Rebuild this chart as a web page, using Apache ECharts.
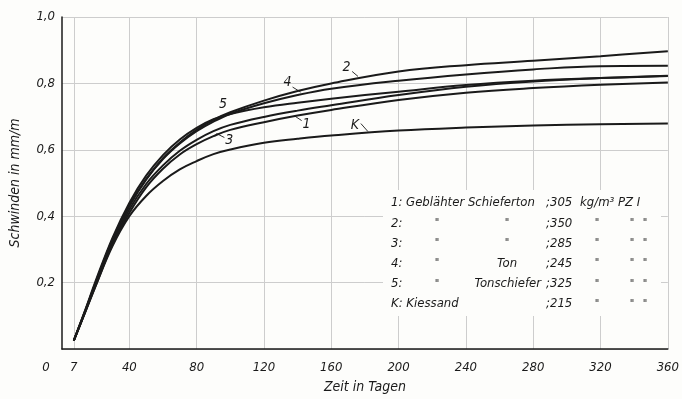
<!DOCTYPE html>
<html>
<head>
<meta charset="utf-8">
<script src="https://cdn.jsdelivr.net/npm/echarts@6/dist/echarts.min.js"></script>
<style>
  html, body { margin: 0; padding: 0; background: #fdfdfb; }
  #chart { width: 682px; height: 399px; }
</style>
</head>
<body>
<div id="chart"></div>
<script>
// Shrinkage of lightweight concrete over time (days), one curve per aggregate
const days   = [7, 14, 20, 30, 40, 50, 60, 70, 80, 90, 100, 120, 140, 160, 200, 240, 280, 320, 360];
const curve1 = [0.025, 0.115, 0.195, 0.320, 0.420, 0.497, 0.553, 0.597, 0.630, 0.656, 0.675, 0.699, 0.718, 0.734, 0.765, 0.790, 0.806, 0.816, 0.823];
const curve2 = [0.025, 0.118, 0.200, 0.330, 0.432, 0.512, 0.575, 0.622, 0.660, 0.690, 0.713, 0.748, 0.777, 0.800, 0.836, 0.855, 0.868, 0.882, 0.897];
const curve3 = [0.025, 0.113, 0.190, 0.315, 0.410, 0.487, 0.543, 0.586, 0.617, 0.641, 0.660, 0.683, 0.703, 0.720, 0.750, 0.772, 0.786, 0.796, 0.803];
const curve4 = [0.025, 0.118, 0.200, 0.328, 0.430, 0.510, 0.572, 0.619, 0.656, 0.685, 0.708, 0.740, 0.765, 0.784, 0.808, 0.827, 0.842, 0.852, 0.853];
const curve5 = [0.025, 0.120, 0.205, 0.335, 0.440, 0.522, 0.584, 0.631, 0.666, 0.692, 0.708, 0.728, 0.742, 0.754, 0.775, 0.795, 0.808, 0.816, 0.822];
const curveK = [0.025, 0.115, 0.190, 0.310, 0.400, 0.461, 0.506, 0.541, 0.566, 0.587, 0.601, 0.621, 0.633, 0.643, 0.658, 0.667, 0.673, 0.677, 0.679];
const curveNames = ['1', '2', '3', '4', '5', 'K'];

// Axis ticks
const xLabelValues = [0, 7, 40, 80, 120, 160, 200, 240, 280, 320, 360];
const xGridValues  = [7, 40, 80, 120, 160, 200, 240, 280, 320, 360];
const yTicks       = [0.2, 0.4, 0.6, 0.8, 1.0];

// Curve tags with their leader strokes (data coordinates)
const tagText   = ['2', '4', '5', '1', '3', 'K'];
const tagDay    = [169, 134, 95.7, 145.3, 99.4, 174];
const tagValue  = [0.847, 0.803, 0.738, 0.676, 0.629, 0.673];
const leaderFrom = [[172.4, 0.836], [137, 0.789], null, [142.4, 0.688], [96.5, 0.637], [177.6, 0.679]];
const leaderTo   = [[175.9, 0.821], [141.8, 0.774], null, [138.2, 0.702], [91.8, 0.649], [181.8, 0.655]];

// Key table
const keyIds      = ['1:', '2:', '3:', '4:', '5:', 'K:'];
const keyFirst    = ['Geblähter Schieferton', '"', '"', '"', '"', 'Kiessand'];
const keySecond   = ['', '"', '"', 'Ton', 'Tonschiefer', ''];
const keyDensity  = [';305', ';350', ';285', ';245', ';325', ';215'];
const keyUnit     = 'kg/m³ PZ I';

const FONT = '"DejaVu Sans Condensed", "Liberation Sans Narrow", "DejaVu Sans", sans-serif';
const INK = '#1a1a1a';

const chart = echarts.init(document.getElementById('chart'), null, { renderer: 'canvas' });

const series = [curve1, curve2, curve3, curve4, curve5, curveK].map((vals, i) => ({
  name: curveNames[i],
  type: 'line',
  data: days.map((d, j) => [d, vals[j]]),
  smooth: 0.4,
  showSymbol: false,
  lineStyle: { color: INK, width: 2 },
  z: 3
}));

chart.setOption({
  backgroundColor: '#fdfdfb',
  animation: false,
  grid: { left: 59, right: 11, top: 17, bottom: 46 },
  xAxis: {
    type: 'value',
    min: 0, max: 360, interval: 40,
    name: 'Zeit in Tagen',
    nameLocation: 'middle',
    nameGap: 31,
    nameTextStyle: { fontFamily: FONT, fontStyle: 'italic', fontSize: 14, color: INK },
    axisLine: { show: true, onZero: false, lineStyle: { color: INK, width: 1.5 } },
    axisTick: { show: false, customValues: xGridValues },
    axisLabel: {
      customValues: xLabelValues,
      fontFamily: FONT, fontStyle: 'italic', fontSize: 13, color: INK, margin: 12,
      formatter: v => v === 0 ? '{o|0}' : String(v),
      rich: { o: { fontFamily: FONT, fontStyle: 'italic', fontSize: 13, color: INK, padding: [0, 32, 0, 0] } }
    },
    splitLine: { show: true, lineStyle: { color: '#cdcdcd', width: 1 } }
  },
  yAxis: {
    type: 'value',
    min: 0, max: 1, interval: 0.2,
    name: 'Schwinden in mm/m',
    nameLocation: 'middle',
    nameGap: 40,
    nameTextStyle: { fontFamily: FONT, fontStyle: 'italic', fontSize: 14, color: INK },
    axisLine: { show: true, lineStyle: { color: INK, width: 1.5 } },
    axisTick: { show: false },
    axisLabel: {
      fontFamily: FONT, fontStyle: 'italic', fontSize: 13, color: INK, margin: 7,
      formatter: v => yTicks.some(t => Math.abs(t - v) < 1e-9) ? v.toFixed(1).replace('.', ',') : ''
    },
    splitLine: { show: true, lineStyle: { color: '#cdcdcd', width: 1 } }
  },
  series
});

// Annotations placed through the grid's own coordinate system
const px = p => chart.convertToPixel({ gridIndex: 0 }, p);
const graphics = [];
const textStyle = (extra) => Object.assign({ fontFamily: FONT, fontStyle: 'italic', fontSize: 13, fill: INK }, extra);

tagText.forEach((t, i) => {
  const c = px([tagDay[i], tagValue[i]]);
  graphics.push({ type: 'text', x: c[0], y: c[1], z: 5,
    style: textStyle({ text: t, align: 'center', verticalAlign: 'middle', fontSize: 14 }) });
  if (leaderFrom[i]) {
    const a = px(leaderFrom[i]), b = px(leaderTo[i]);
    graphics.push({ type: 'line', z: 5,
      shape: { x1: a[0], y1: a[1], x2: b[0], y2: b[1] },
      style: { stroke: INK, lineWidth: 0.9 } });
  }
});

// Key table block with a blank backing over the grid lines
graphics.push({ type: 'rect', z: 1, shape: { x: 383, y: 190, width: 278, height: 126 },
  style: { fill: '#fdfdfb' } });

const rowY0 = 203, rowStep = 20.2;
const ditto = (x, y) => ({ type: 'text', x, y, z: 5,
  style: textStyle({ text: '"', align: 'center', verticalAlign: 'middle', fontSize: 11 }) });

keyIds.forEach((id, r) => {
  const y = rowY0 + r * rowStep;
  const base = { verticalAlign: 'middle' };
  const first = keyFirst[r];
  if (first === '"') {
    graphics.push({ type: 'text', x: 391, y, z: 5, style: textStyle(Object.assign({ text: id, align: 'left' }, base)) });
    graphics.push(ditto(437, y));
  } else {
    graphics.push({ type: 'text', x: 391, y, z: 5, style: textStyle(Object.assign({ text: id + ' ' + first, align: 'left' }, base)) });
  }
  const second = keySecond[r];
  if (second === '"') {
    graphics.push(ditto(507, y));
  } else if (second === 'Ton') {
    graphics.push({ type: 'text', x: 507, y, z: 5, style: textStyle(Object.assign({ text: second, align: 'center' }, base)) });
  } else if (second) {
    graphics.push({ type: 'text', x: 541, y, z: 5, style: textStyle(Object.assign({ text: second, align: 'right' }, base)) });
  }
  graphics.push({ type: 'text', x: 546, y, z: 5, style: textStyle(Object.assign({ text: keyDensity[r], align: 'left' }, base)) });
  if (r === 0) {
    graphics.push({ type: 'text', x: 580, y, z: 5, style: textStyle(Object.assign({ text: keyUnit, align: 'left' }, base)) });
  } else {
    [597, 632, 645].forEach(x => graphics.push(ditto(x, y)));
  }
});

chart.setOption({ graphic: graphics });
</script>
</body>
</html>
